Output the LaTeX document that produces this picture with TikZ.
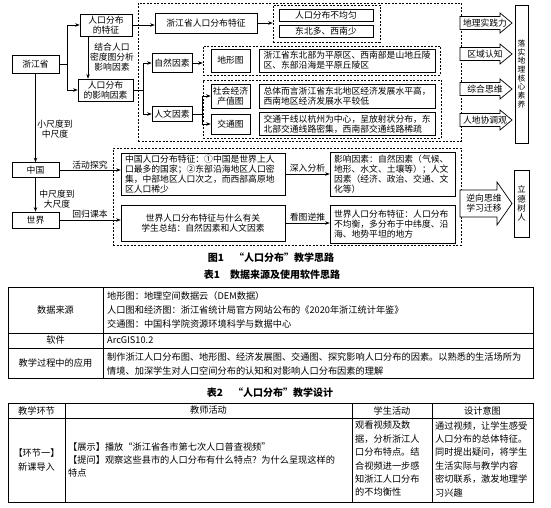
\documentclass[tikz,border=0pt]{standalone}
\usepackage{fontspec}
\setmainfont{Noto Sans CJK SC}
\usetikzlibrary{arrows.meta}

\begin{document}
\begin{tikzpicture}[
x=1pt, y=-1pt,
font=\fontsize{8.8}{10}\selectfont,
box/.style={draw, line width=0.7pt, inner sep=2pt, align=center},
txtbox/.style={draw, line width=0.7pt, inner xsep=4pt, inner ysep=2pt, align=left},
grp/.style={draw, line width=0.6pt, dash pattern=on 2pt off 1.5pt},
arr/.style={-{Stealth[length=4.5pt,width=3.5pt]}, line width=0.6pt},
lbl/.style={inner sep=1pt, align=center},
blockarr/.style={draw, line width=0.7pt, fill=white},
rule/.style={line width=0.6pt},
caption/.style={inner sep=0pt, font=\fontsize{10}{12}\selectfont\bfseries},
tabtxt/.style={inner sep=0pt, font=\fontsize{9.2}{14}\selectfont, align=left},
tabtxtb/.style={inner sep=0pt, font=\fontsize{9.2}{13.4}\selectfont, align=left}
]

\path[fill=white] (0,0) rectangle (551,508);
\useasboundingbox (0,0) rectangle (551,508);

%%%%%%%%%%%%%%%%%%%%%%%%%%%%%%%%%%%%%%%%%%%%%%%%%%%%%%
% SCALES (LEFT COLUMN)
%%%%%%%%%%%%%%%%%%%%%%%%%%%%%%%%%%%%%%%%%%%%%%%%%%%%%%

\node[
box,
minimum width=47pt,
minimum height=18pt
] (zhejiang) at (35.5,64) {浙江省};

\node[
box,
minimum width=47pt,
minimum height=15pt
] (zhongguo) at (35.5,170) {中国};

\node[
box,
minimum width=47pt,
minimum height=16pt
] (shijie) at (35.5,220) {世界};

\node[lbl] (xiaozhong) at (55,129) {小尺度到\\中尺度};
\node[lbl] (zhongda) at (57,199) {中尺度到\\大尺度};

%%%%%%%%%%%%%%%%%%%%%%%%%%%%%%%%%%%%%%%%%%%%%%%%%%%%%%
% ZHEJIANG
%%%%%%%%%%%%%%%%%%%%%%%%%%%%%%%%%%%%%%%%%%%%%%%%%%%%%%

\node[
box,
minimum width=52pt,
minimum height=22pt
] (tezheng) at (106,25) {人口分布\\的特征};

\node[
box,
minimum width=55pt,
minimum height=22pt
] (yinsu) at (105.5,90) {人口分布\\的影响因素};

\node[lbl] (fenxi) at (112,57) {结合人口\\密度图分析\\影响因素};

\node[
grp,
minimum width=323pt,
minimum height=138pt
] (grpD) at (299.5,72) {};

% features
\node[
box,
minimum width=102pt,
minimum height=20pt
] (zjtezheng) at (206,23) {浙江省人口分布特征};

\node[
grp,
minimum width=107pt,
minimum height=37pt
] (grpA) at (326.5,23.5) {};

\node[
box,
inner sep=0pt,
minimum width=94pt,
minimum height=12pt
] (buyun) at (326,15.5) {人口分布不均匀};

\node[
box,
inner sep=0pt,
minimum width=94pt,
minimum height=12pt
] (dongbei) at (326,31.5) {东北多、西南少};

% natural factors
\node[
box,
minimum width=40pt,
minimum height=19pt
] (ziran) at (172,63) {自然因素};

\node[
grp,
minimum width=237pt,
minimum height=29pt
] (grpB) at (321.5,60.5) {};

\node[
box,
minimum width=39pt,
minimum height=23pt
] (dixing) at (230.5,60.5) {地形图};

\node[
txtbox,
text width=168pt,
minimum height=23pt
] (dixingtxt) at (347.5,60.5)
{浙江省东北部为平原区、西南部是山地丘陵\\区、东部沿海是平原丘陵区};

% human factors
\node[
box,
minimum width=40pt,
minimum height=15pt
] (renwen) at (172,114) {人文因素};

\node[
grp,
minimum width=238pt,
minimum height=58pt
] (grpC) at (322,109) {};

\node[
box,
minimum width=39pt,
minimum height=24pt
] (jingji) at (230.5,96) {社会经济\\产值图};

\node[
box,
minimum width=39pt,
minimum height=20pt
] (jiaotong) at (230.5,124) {交通图};

\node[
txtbox,
text width=168pt,
minimum height=24pt
] (jingjitxt) at (347.5,96)
{总体而言浙江省东北地区经济发展水平高，\\西南地区经济发展水平较低};

\node[
txtbox,
text width=168pt,
minimum height=22pt
] (jiaotongtxt) at (347.5,124)
{交通干线以杭州为中心，呈放射状分布，东\\北部交通线路密集，西南部交通线路稀疏};

%%%%%%%%%%%%%%%%%%%%%%%%%%%%%%%%%%%%%%%%%%%%%%%%%%%%%%
% CHINA AND WORLD
%%%%%%%%%%%%%%%%%%%%%%%%%%%%%%%%%%%%%%%%%%%%%%%%%%%%%%

\node[
grp,
minimum width=348pt,
minimum height=97pt
] (grpE) at (287,196.5) {};

\node[
txtbox,
text width=156pt,
minimum height=42pt
] (cnbox) at (203,174)
{中国人口分布特征：①中国是世界上人\\口最多的国家；②东部沿海地区人口密\\集，中部地区人口次之，而西部高原地\\区人口稀少};

\node[
txtbox,
text width=117pt,
minimum height=44pt
] (cnfactor) at (392.5,174)
{影响因素：自然因素（气候、\\地形、水文、土壤等）；人文\\因素（经济、政治、交通、文\\化等）};

\node[
txtbox,
align=center,
text width=156pt,
minimum height=36pt
] (wbox) at (203,223)
{世界人口分布特征与什么有关\\学生总结：自然因素和人文因素};

\node[
txtbox,
text width=117pt,
minimum height=38pt
] (wres) at (392.5,224)
{世界人口分布特征：人口分布\\不均衡，多分布于中纬度、沿\\海、地势平坦的地方};

%%%%%%%%%%%%%%%%%%%%%%%%%%%%%%%%%%%%%%%%%%%%%%%%%%%%%%
% CORE LITERACY
%%%%%%%%%%%%%%%%%%%%%%%%%%%%%%%%%%%%%%%%%%%%%%%%%%%%%%

\foreach \yy/\txt/\nm in {23/地理实践力/sj, 54/区域认知/qy, 89/综合思维/zh, 120/人地协调观/rd} {
  \draw[blockarr] (460,\yy-6.5) -- (500,\yy-6.5) -- (500,\yy-10) -- (512,\yy)
    -- (500,\yy+10) -- (500,\yy+6.5) -- (460,\yy+6.5) -- cycle;
  \node[lbl] (\nm) at (485,\yy) {\txt};
}

\draw[blockarr] (460,190) -- (497,190) -- (497,182) -- (512,203.5)
  -- (497,225) -- (497,217) -- (460,217) -- cycle;
\node[lbl] (nixiang) at (484,203.5) {逆向思维\\学习迁移};

\node[
box,
inner sep=1pt,
minimum width=13pt,
minimum height=138pt,
font=\fontsize{7.8}{8.7}\selectfont
] (suyang) at (521.5,74) {落\\实\\地\\理\\核\\心\\素\\养};

\node[
box,
inner sep=1pt,
minimum width=15pt,
minimum height=67pt,
font=\fontsize{8.4}{9.2}\selectfont
] (lide) at (521.5,203.5) {立\\德\\树\\人};

%%%%%%%%%%%%%%%%%%%%%%%%%%%%%%%%%%%%%%%%%%%%%%%%%%%%%%
% CONNECTORS
%%%%%%%%%%%%%%%%%%%%%%%%%%%%%%%%%%%%%%%%%%%%%%%%%%%%%%

\coordinate (jA) at (67,64);
\draw[line width=0.6pt] (zhejiang.east) -- (jA);
\draw[arr] (jA) |- (tezheng.west);
\draw[arr] (jA) |- (yinsu.west);
\draw[arr] ([xshift=-18pt]tezheng.south) -- ([xshift=-18pt]tezheng.south |- yinsu.north);
\draw[arr] (tezheng.east) -- (tezheng.east -| zjtezheng.west);
\draw[arr] (zjtezheng.east) -- (zjtezheng.east -| grpA.west);

\coordinate (jB) at (143,90);
\draw[line width=0.6pt] (yinsu.east) -- (jB);
\draw[arr] (jB) |- (ziran.west);
\draw[arr] (jB) |- (renwen.west);
\draw[arr] (ziran.east) -- (ziran.east -| grpB.west);

\coordinate (jC) at (202,114);
\draw[line width=0.6pt] (renwen.east) -- (jC);
\draw[arr] (jC) |- (jingji.west);
\draw[arr] (jC) |- (jiaotong.west);

\draw[arr] (zhejiang.south) -- (zhongguo.north);
\draw[arr] (zhongguo.south) -- (shijie.north);

\draw[arr] (zhongguo.east) -- (zhongguo.east -| cnbox.west)
  node[lbl, above, midway] (huodong) {活动探究};
\draw[arr] (shijie.east) -- (shijie.east -| wbox.west)
  node[lbl, above, midway] (huigui) {回归课本};
\draw[arr] (cnbox.east) -- (cnfactor.west)
  node[lbl, above, midway] (shenru) {深入分析};
\draw[arr] (wbox.east) -- (wbox.east -| wres.west)
  node[lbl, above, midway] (kantu) {看图逆推};

\node[caption] (tu1) at (271,258) {图1\quad “人口分布”教学思路};

%%%%%%%%%%%%%%%%%%%%%%%%%%%%%%%%%%%%%%%%%%%%%%%%%%%%%%
% TABLE 1
%%%%%%%%%%%%%%%%%%%%%%%%%%%%%%%%%%%%%%%%%%%%%%%%%%%%%%

\node[caption] (biao1) at (272,275) {表1\quad 数据来源及使用软件思路};

\draw[rule] (8,287) rectangle (533,378);
\draw[rule] (8,333) -- (533,333);
\draw[rule] (8,348) -- (533,348);
\draw[rule] (103,287) -- (103,378);

\node[tabtxt] (sjly) at (55.5,310) {数据来源};
\node[tabtxt, anchor=west] (sjlytxt) at (107,309.5)
{地形图：地理空间数据云（DEM数据）\\人口图和经济图：浙江省统计局官方网站公布的《2020年浙江统计年鉴》\\交通图：中国科学院资源环境科学与数据中心};

\node[tabtxt] (ruanjian) at (55.5,340.5) {软件};
\node[tabtxt, anchor=west] (ruanjiantxt) at (107,340.5) {ArcGIS10.2};

\node[tabtxt] (yingyong) at (55.5,363) {教学过程中的应用};
\node[tabtxt, anchor=west] (yingyongtxt) at (107,363.5)
{制作浙江人口分布图、地形图、经济发展图、交通图、探究影响人口分布的因素。以熟悉的生活场所为\\情境、加深学生对人口空间分布的认知和对影响人口分布因素的理解};

%%%%%%%%%%%%%%%%%%%%%%%%%%%%%%%%%%%%%%%%%%%%%%%%%%%%%%
% TABLE 2
%%%%%%%%%%%%%%%%%%%%%%%%%%%%%%%%%%%%%%%%%%%%%%%%%%%%%%

\node[caption] (biao2) at (270,393) {表2\quad “人口分布”教学设计};

\draw[rule] (8,403) rectangle (533,502);
\draw[rule] (8,418) -- (533,418);
\draw[rule] (65,403) -- (65,502);
\draw[rule] (352,403) -- (352,502);
\draw[rule] (432,403) -- (432,502);

\node[tabtxt] (hjhead) at (36.5,410.5) {教学环节};
\node[tabtxt] (jshead) at (208.5,410.5) {教师活动};
\node[tabtxt] (xshead) at (392,410.5) {学生活动};
\node[tabtxt] (sjhead) at (482.5,410.5) {设计意图};

\node[tabtxtb, align=center] (huanjie) at (36.5,460) {【环节一】\\新课导入};
\node[tabtxtb, anchor=west] (jiaoshi) at (68,460)
{【展示】播放“浙江省各市第七次人口普查视频”\\【提问】观察这些县市的人口分布有什么特点？为什么呈现这样的\\特点};
\node[tabtxtb, anchor=west] (xuesheng) at (355,459)
{观看视频及数\\据，分析浙江人\\口分布特点。结\\合视频进一步感\\知浙江人口分布\\的不均衡性};
\node[tabtxtb, anchor=west] (yitu) at (435,459)
{通过视频，让学生感受\\人口分布的总体特征。\\同时提出疑问，将学生\\生活实际与教学内容\\密切联系，激发地理学\\习兴趣};

\end{tikzpicture}
\end{document}
